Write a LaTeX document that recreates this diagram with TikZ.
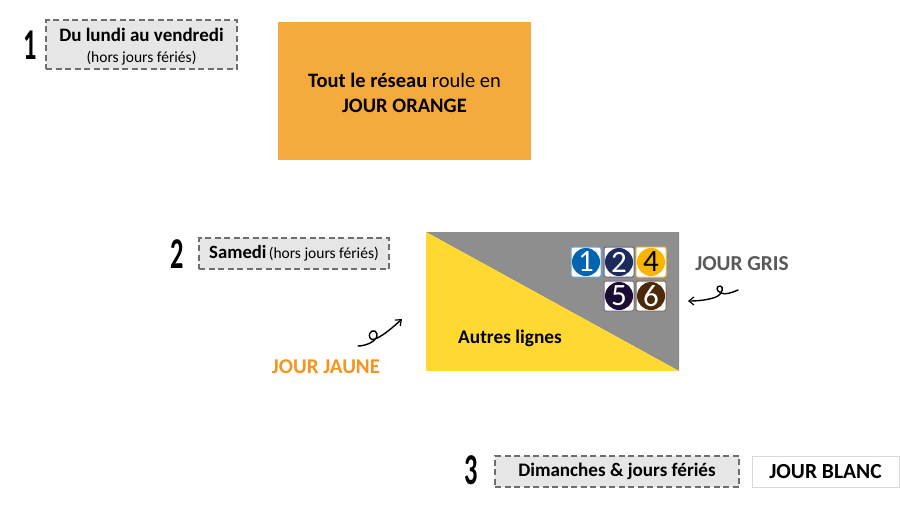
\documentclass[tikz,border=0pt]{standalone}
\usepackage{fontspec}
\setmainfont{Carlito}
\usetikzlibrary{arrows.meta}
\definecolor{dashgray}{HTML}{6E6E6E}
\definecolor{boxfill}{HTML}{E6E6E6}
\definecolor{orangebox}{HTML}{F5AA3E}
\definecolor{yellowtri}{HTML}{FFD932}
\definecolor{graytri}{HTML}{8E8E8E}
\definecolor{jaune}{HTML}{F7941D}
\definecolor{gristxt}{HTML}{595959}
\definecolor{lblue}{HTML}{0064B0}
\definecolor{lnavy}{HTML}{1D2A5C}
\definecolor{lyellow}{HTML}{F7B500}
\definecolor{lpurple}{HTML}{1B0C33}
\definecolor{lbrown}{HTML}{4B2A0C}
\tikzset{
  daybox/.style={draw=dashgray, fill=boxfill, dashed, dash pattern=on 6pt off 3.5pt, line width=2pt, inner sep=0pt},
  bignum/.style={font=\fontsize{44}{44}\bfseries, inner sep=0pt},
  badge/.style={minimum size=30pt, inner sep=0pt, rounded corners=2pt, fill=white, line width=1pt},
  badgetxt/.style={font=\fontsize{31}{31}\selectfont, inner sep=0pt},
  squig/.style={line width=1.4pt, line cap=round, -{Straight Barb[length=5pt,width=8pt,line width=1.2pt]}}
}
\begin{document}
\begin{tikzpicture}[x=1pt,y=-1pt]
\useasboundingbox (0,0) rectangle (900,514);
\fill[white] (0,0) rectangle (900,514);

% Section 1
\node[bignum] (n1) at (30,45) {\scalebox{0.6}[1]{1}};
\node[daybox, minimum width=191pt, minimum height=49pt] (b1) at (141.5,44.5) {};
\node[align=center, inner sep=0pt, font=\fontsize{19}{21}\selectfont] (b1t) at (141.5,47)
  {\textbf{Du lundi au vendredi}\\{\fontsize{15.5}{21}\selectfont (hors jours fériés)}};
\node[fill=orangebox, minimum width=253pt, minimum height=138pt] (orange) at (404.5,91) {};
\node[align=center, inner sep=0pt, font=\fontsize{20.5}{25}\selectfont] (oranget) at (404.5,93)
  {\textbf{Tout le réseau} roule en\\\textbf{JOUR ORANGE}};

% Section 2
\node[bignum] (n2) at (177,254) {\scalebox{0.6}[1]{2}};
\node[daybox, minimum width=190pt, minimum height=31pt] (b2) at (294,253.5)
  {{\fontsize{18.7}{20}\bfseries Samedi} {\fontsize{15.5}{17}\selectfont(hors jours fériés)}};

\coordinate (tl) at (426,232);
\coordinate (tr) at (679,232);
\coordinate (br) at (679,371);
\coordinate (bl) at (426,371);
\fill[graytri] (tl) -- (tr) -- (br) -- cycle;
\fill[yellowtri] (tl) -- (br) -- (bl) -- cycle;
\node[font=\fontsize{19.3}{21}\bfseries] (autres) at (510,338) {Autres lignes};

\node[badge, draw=lblue!60] (l1) at (586,262) {};
\fill[lblue] (l1.center) circle (14pt);
\node[badgetxt, text=white] at (l1.center) {1};
\node[badge, draw=lnavy!70] (l2) at (619,262) {};
\fill[lnavy] (l2.center) circle (14pt);
\node[badgetxt, text=white] at (l2.center) {2};
\node[badge, draw=lyellow!80] (l4) at (651,262) {};
\fill[lyellow] (l4.center) circle (14pt);
\node[badgetxt, text=black] at (l4.center) {4};
\node[badge, draw=lpurple!60] (l5) at (619,296) {};
\fill[lpurple] (l5.center) circle (14pt);
\node[badgetxt, text=white] at (l5.center) {5};
\node[badge, draw=lbrown!70] (l6) at (651,296) {};
\fill[lbrown] (l6.center) circle (14pt);
\node[badgetxt, text=white] at (l6.center) {6};

\node[text=jaune, font=\fontsize{21}{23}\bfseries] (jaune) at (326,367) {JOUR JAUNE};
\node[text=gristxt, font=\fontsize{21.3}{23}\bfseries] (gris) at (742,264) {JOUR GRIS};

\coordinate (a1s) at (358,346);
\coordinate (a1e) at (402,319);
\draw[squig] (a1s) .. controls (366,346) and (378,341) .. (377,334)
  .. controls (376,328) and (367,331) .. (370,338)
  .. controls (373,344) and (390,330) .. (a1e);

\coordinate (a2s) at (738,290);
\coordinate (a2e) at (688,301);
\draw[squig] (a2s) .. controls (731,293) and (725,295) .. (721,293)
  .. controls (716,291) and (716,286) .. (720,286)
  .. controls (724,286) and (723,294) .. (716,297)
  .. controls (708,300) and (698,301) .. (a2e);

% Section 3
\node[bignum] (n3) at (471,470) {\scalebox{0.6}[1]{3}};
\node[daybox, minimum width=244pt, minimum height=31pt] (b3) at (617,471.5)
  {\fontsize{19.1}{21}\bfseries Dimanches \& jours fériés};
\node[draw=black!15, fill=white, line width=0.8pt, minimum width=147pt, minimum height=31pt, font=\fontsize{21.5}{23}\bfseries] (blanc) at (825.5,471.5) {JOUR BLANC};
\end{tikzpicture}
\end{document}
